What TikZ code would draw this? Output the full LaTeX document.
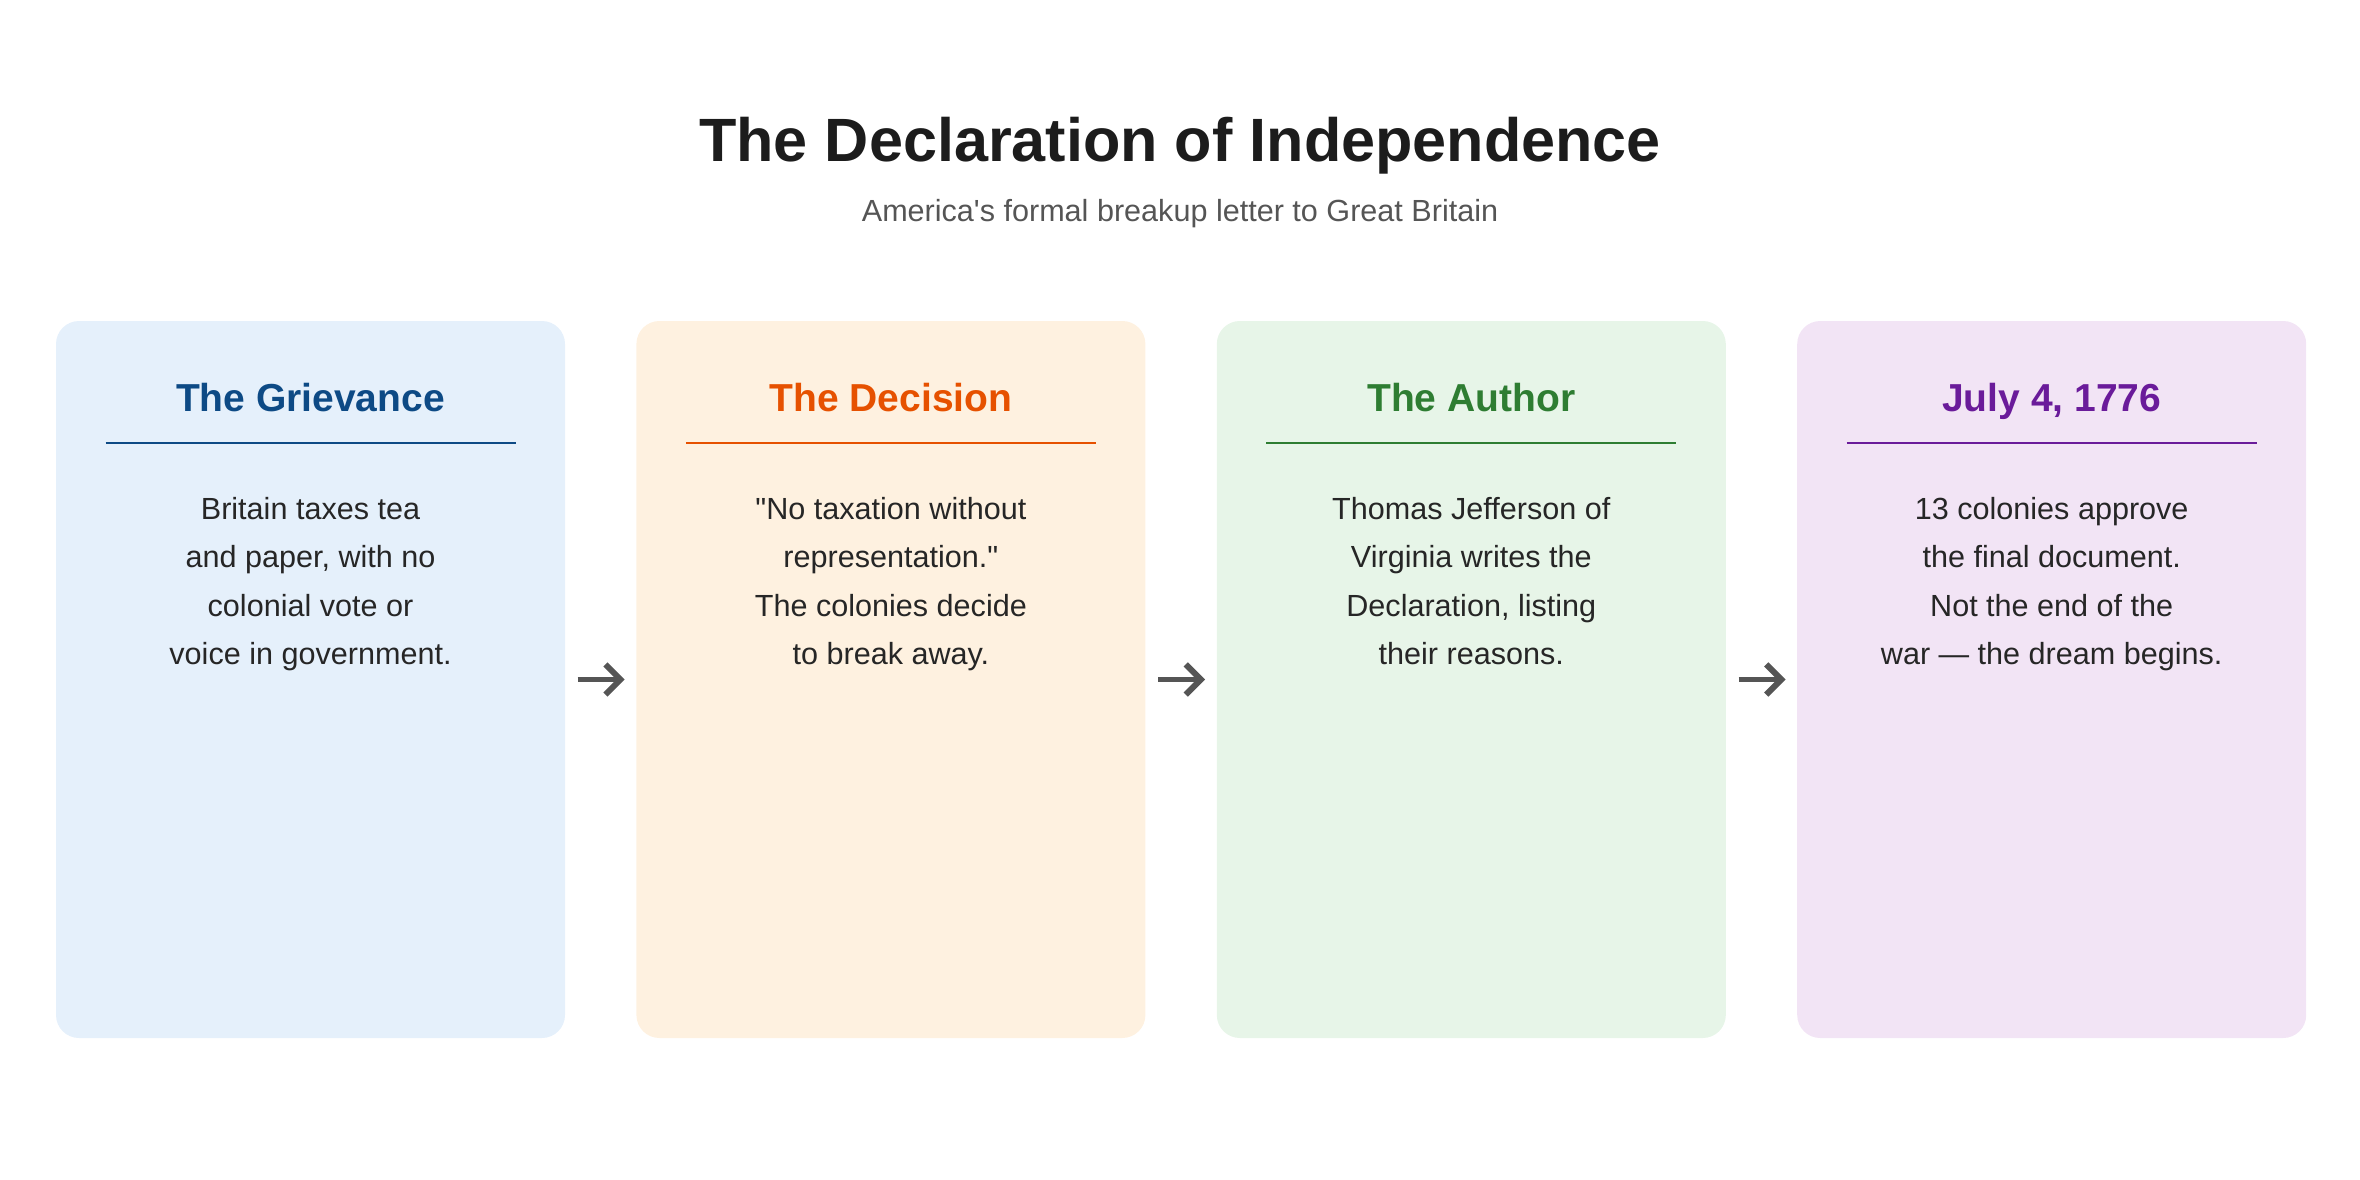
\documentclass[tikz,border=0pt]{standalone}
\usepackage{fontspec}
\setmainfont{Liberation Sans}
\usetikzlibrary{positioning,arrows.meta}

\definecolor{titlec}{HTML}{1C1C1C}
\definecolor{subc}{HTML}{555555}
\definecolor{bodyc}{HTML}{262626}
\definecolor{arrc}{HTML}{555555}
\definecolor{blueh}{HTML}{0D4A85}
\definecolor{bluef}{HTML}{E5F0FB}
\definecolor{orangeh}{HTML}{E65100}
\definecolor{orangef}{HTML}{FEF1E0}
\definecolor{greenh}{HTML}{2E7D32}
\definecolor{greenf}{HTML}{E7F5E8}
\definecolor{purpleh}{HTML}{6A1B9A}
\definecolor{purplef}{HTML}{F2E4F5}

\tikzset{
  card/.style={rounded corners=2.3mm, minimum width=50.9mm, minimum height=71.7mm, inner sep=0pt},
  head/.style={font=\fontsize{11.1}{13}\selectfont\bfseries, anchor=base},
  body/.style={font=\fontsize{8.7}{13.8}\selectfont, align=center, text=bodyc, anchor=north, inner sep=0pt},
  rule/.style={line width=0.55pt},
  arr/.style={-{Straight Barb[length=4.3pt,width=8.6pt]}, line width=1.7pt, draw=arrc,
    shorten <=1.2mm, shorten >=1.1mm},
}

\begin{document}
\begin{tikzpicture}[x=0.1mm,y=-0.1mm]
\useasboundingbox (0,0) rectangle (2360,1180);

\node[font=\fontsize{17.4}{20}\selectfont\bfseries, text=titlec] (title) at (1180,146) {The Declaration of Independence};
\node[font=\fontsize{8.7}{11}\selectfont, text=subc] (sub) at (1180,214) {America\textquotesingle s formal breakup letter to Great Britain};

% the four cards
\node[card, fill=bluef] (b1) at (310.5,679.5) {};
\node[card, fill=orangef, right=7mm of b1] (b2) {};
\node[card, fill=greenf, right=7mm of b2] (b3) {};
\node[card, fill=purplef, right=7mm of b3] (b4) {};

\node[head, text=blueh] (h1) at ([yshift=-9.1mm]b1.north) {The Grievance};
\node[head, text=orangeh] (h2) at ([yshift=-9.1mm]b2.north) {The Decision};
\node[head, text=greenh] (h3) at ([yshift=-9.1mm]b3.north) {The Author};
\node[head, text=purpleh] (h4) at ([yshift=-9.1mm]b4.north) {July 4, 1776};

\draw[rule, blueh] ([xshift=-20.5mm,yshift=-12.3mm]b1.north) -- ([xshift=20.5mm,yshift=-12.3mm]b1.north);
\draw[rule, orangeh] ([xshift=-20.5mm,yshift=-12.3mm]b2.north) -- ([xshift=20.5mm,yshift=-12.3mm]b2.north);
\draw[rule, greenh] ([xshift=-20.5mm,yshift=-12.3mm]b3.north) -- ([xshift=20.5mm,yshift=-12.3mm]b3.north);
\draw[rule, purpleh] ([xshift=-20.5mm,yshift=-12.3mm]b4.north) -- ([xshift=20.5mm,yshift=-12.3mm]b4.north);

\node[body] (t1) at ([yshift=-17.6mm]b1.north) {Britain taxes tea\\and paper, with no\\colonial vote or\\voice in government.};
\node[body] (t2) at ([yshift=-17.6mm]b2.north) {\textquotedbl No taxation without\\representation.\textquotedbl\\The colonies decide\\to break away.};
\node[body] (t3) at ([yshift=-17.6mm]b3.north) {Thomas Jefferson of\\Virginia writes the\\Declaration, listing\\their reasons.};
\node[body] (t4) at ([yshift=-17.6mm]b4.north) {13 colonies approve\\the final document.\\Not the end of the\\war — the dream begins.};

% arrows between cards
\draw[arr] (b1) -- (b2);
\draw[arr] (b2) -- (b3);
\draw[arr] (b3) -- (b4);
\end{tikzpicture}
\end{document}
